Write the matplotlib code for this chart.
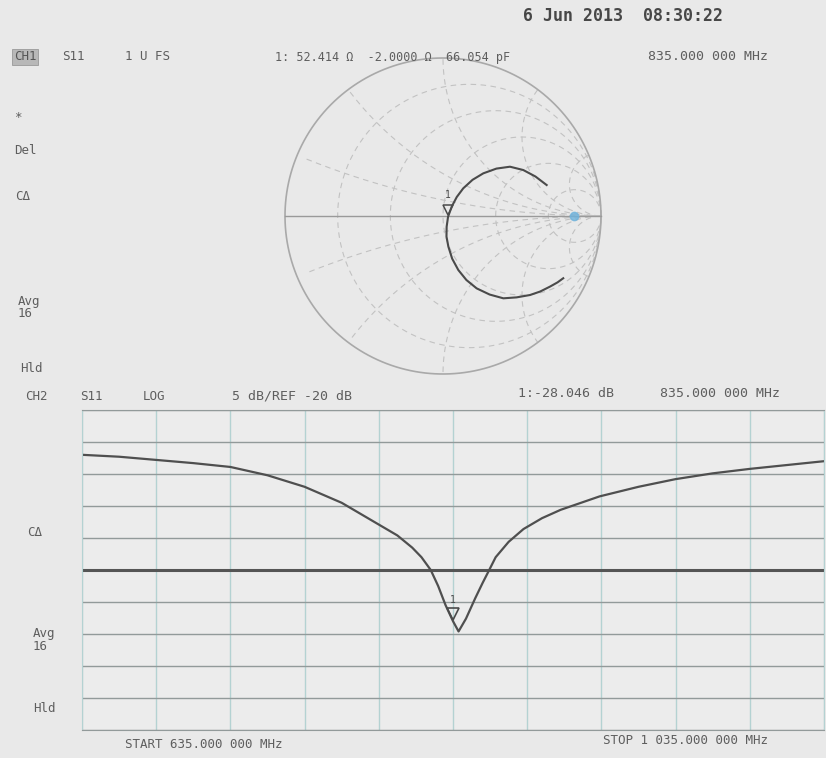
import numpy as np
import matplotlib
matplotlib.use("Agg")
import matplotlib.pyplot as plt
from matplotlib import transforms

# ---- data ----
freq_mhz = [635, 655, 675, 695, 715, 735, 755, 775, 795, 805, 813, 818, 823,
            827, 831, 835, 838, 842, 847, 851, 854, 858, 865, 873, 883, 893,
            914, 935, 955, 975, 995, 1015, 1035]
s11_db = [-2.0, -2.3, -2.8, -3.3, -3.9, -5.2, -7.0, -9.5, -12.9, -14.6, -16.5,
          -18.0, -20.0, -22.5, -25.5, -28.0, -29.6, -27.6, -24.4, -22.0, -20.3,
          -18.0, -15.6, -13.6, -11.9, -10.6, -8.5, -7.0, -5.8, -4.9, -4.2,
          -3.6, -3.0]

# smith trace, reflection coefficient (real, imag), start -> stop
gamma_re = [0.761, 0.725, 0.677, 0.615, 0.551, 0.466, 0.382, 0.295, 0.213,
            0.148, 0.097, 0.058, 0.034, 0.022, 0.023, 0.032, 0.055, 0.087,
            0.128, 0.187, 0.255, 0.338, 0.424, 0.508, 0.585, 0.656]
gamma_im = [-0.394, -0.420, -0.447, -0.478, -0.500, -0.515, -0.521, -0.497,
            -0.458, -0.405, -0.342, -0.270, -0.194, -0.130, -0.068, -0.005,
            0.059, 0.120, 0.175, 0.229, 0.270, 0.300, 0.312, 0.291, 0.250,
            0.196]

marker_freq = 835
marker_db = -28.046
marker_gamma = (0.03, 0.0)

smith_r = [0.2, 0.5, 1, 2, 5]
smith_x = [0.2, 0.5, 1, 2, 5]

ref_db = -20
db_per_div = 5
start_mhz, stop_mhz = 635, 1035

W, H = 826, 758
bg = "#e9e9e9"
ink = "#5e5e5e"
mono = "DejaVu Sans Mono"

fig = plt.figure(figsize=(W / 100, H / 100), dpi=100, facecolor=bg)


def ftxt(x, y, s, size=9, color=ink, **kw):
    fig.text(x / W, 1 - y / H, s, fontsize=size, color=color, family=mono,
             va="center", ha="left", **kw)


# ---- Smith chart (CH1) ----
cx, cy, rad = 443, 216, 158
half = 1.05 * rad
ax1 = fig.add_axes([(cx - half) / W, (H - cy - half) / H, 2 * half / W, 2 * half / H])
ax1.set_xlim(-1.05, 1.05)
ax1.set_ylim(-1.05, 1.05)
ax1.set_aspect("equal")
ax1.axis("off")

t = np.linspace(0, 2 * np.pi, 400)
grid_col = "#c2c2c2"
for r in smith_r:
    c = r / (1 + r)
    rr = 1 / (1 + r)
    ax1.plot(c + rr * np.cos(t), rr * np.sin(t), color=grid_col, lw=0.8, ls=(0, (5, 4)))
for x in smith_x:
    for sgn in (1, -1):
        yc = sgn / x
        rr = 1 / x
        px = 1 + rr * np.cos(t)
        py = yc + rr * np.sin(t)
        keep = px ** 2 + py ** 2 <= 1.0
        px = np.where(keep, px, np.nan)
        py = np.where(keep, py, np.nan)
        ax1.plot(px, py, color=grid_col, lw=0.8, ls=(0, (5, 4)))
ax1.plot(np.cos(t), np.sin(t), color="#a9a9a9", lw=1.2)
ax1.plot([-1, 1], [0, 0], color="#9a9a9a", lw=1.0)
ax1.plot([0.83], [0.0], "o", color="#6fb3dc", ms=6, alpha=0.8)

ax1.plot(gamma_re, gamma_im, color="#4a4a4a", lw=1.5)
tri1 = transforms.offset_copy(ax1.transData, fig=fig, y=6, units="dots")
ax1.plot([marker_gamma[0]], [marker_gamma[1]], marker="v", ms=7, mfc="none",
         mec="#4a4a4a", mew=1.1, transform=tri1)
ax1.text(marker_gamma[0], marker_gamma[1] + 0.1, "1", fontsize=7, color="#4a4a4a",
         family=mono, ha="center", va="bottom")

# ---- log magnitude (CH2) ----
left, right, top, bottom = 82, 824, 410, 730
ax2 = fig.add_axes([left / W, (H - bottom) / H, (right - left) / W, (bottom - top) / H])
ax2.set_facecolor("#ececec")
ax2.set_xlim(start_mhz, stop_mhz)
ax2.set_ylim(ref_db - 5 * db_per_div, ref_db + 5 * db_per_div)
ax2.set_xticks(np.arange(start_mhz, stop_mhz + 1, 40))
ax2.set_yticks(np.arange(ref_db - 5 * db_per_div, ref_db + 5 * db_per_div + 1, db_per_div))
ax2.tick_params(length=0, labelbottom=False, labelleft=False)
ax2.grid(axis="x", color="#b4d2d2", lw=1.0)
ax2.grid(axis="y", color="#929a9a", lw=1.0)
ax2.set_axisbelow(True)
for side in ("left", "right"):
    ax2.spines[side].set_color("#b4d2d2")
for side in ("top", "bottom"):
    ax2.spines[side].set_color("#929a9a")

ax2.axhline(ref_db, color="#555555", lw=2.2)
ax2.plot(freq_mhz, s11_db, color="#4f4f4f", lw=1.6)
tri2 = transforms.offset_copy(ax2.transData, fig=fig, y=7, units="dots")
ax2.plot([marker_freq], [marker_db], marker="v", ms=9, mfc="none", mec="#4a4a4a",
         mew=1.2, transform=tri2)
ax2.text(marker_freq, marker_db + 2.6, "1", fontsize=7, color="#4a4a4a",
         family=mono, ha="center", va="bottom")

# ---- annotation text ----
fig.text(523 / W, 1 - 16 / H, "6 Jun 2013  08:30:22", fontsize=12, color="#474747",
         family=mono, va="center", ha="left", fontweight="bold")
ftxt(14, 57, "CH1", size=9, color="#555555",
     bbox=dict(boxstyle="square,pad=0.15", fc="#b8b8b8", ec="#9a9a9a", lw=0.6))
ftxt(62, 57, "S11")
ftxt(125, 57, "1 U FS")
ftxt(275, 57, "1: 52.414 Ω  -2.0000 Ω  66.054 pF", size=8.5)
ftxt(648, 57, "835.000 000 MHz", size=9.5)

ftxt(14, 118, "*")
ftxt(14, 151, "Del")
ftxt(15, 197, "CΔ")
ftxt(18, 302, "Avg")
ftxt(18, 314, "16")
ftxt(20, 369, "Hld")

ftxt(25, 396, "CH2")
ftxt(80, 396, "S11")
ftxt(143, 396, "LOG")
ftxt(232, 396, "5 dB/REF -20 dB", size=9.5)
ftxt(518, 393, "1:-28.046 dB", size=9.5)
ftxt(660, 393, "835.000 000 MHz", size=9.5)

ftxt(27, 533, "CΔ")
ftxt(33, 634, "Avg")
ftxt(33, 647, "16")
ftxt(33, 708, "Hld")

ftxt(125, 745, "START 635.000 000 MHz", size=9)
ftxt(603, 740, "STOP 1 035.000 000 MHz", size=9)

fig.savefig("out.png", dpi=100, facecolor=bg)
